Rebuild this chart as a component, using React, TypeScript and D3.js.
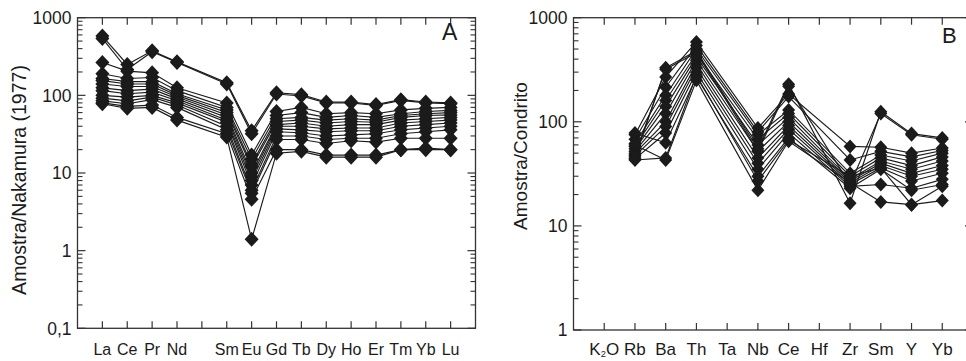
import React from 'react';
import * as d3 from 'd3';

// Panel A: rare earth elements normalised to Nakamura (1977); '' is the unplotted Pm slot
const reeElements = ['La', 'Ce', 'Pr', 'Nd', '', 'Sm', 'Eu', 'Gd', 'Tb', 'Dy', 'Ho', 'Er', 'Tm', 'Yb', 'Lu'];
const reeTickLabels = ['1000', '100', '10', '1', '0,1'];
const reeSamples: (number | null)[][] = [
  [580, 250, 375, 270, null, 145, 35, 108, 102, 82, 82, 76, 88, 82, 80],
  [540, 215, 365, 265, null, 140, 32, 104, 98, 80, 80, 74, 86, 80, 78],
  [265, 205, 195, 125, null, 80, 17, 62, 70, 58, 60, 58, 65, 68, 70],
  [190, 165, 170, 115, null, 70, 15, 55, 60, 52, 55, 52, 58, 62, 64],
  [165, 150, 150, 105, null, 65, 13, 50, 52, 48, 50, 48, 55, 58, 60],
  [155, 140, 140, 100, null, 60, 12, 46, 48, 44, 46, 45, 52, 55, 56],
  [140, 130, 130, 95, null, 56, 10, 42, 44, 40, 42, 42, 48, 50, 52],
  [125, 115, 120, 90, null, 52, 9, 40, 40, 37, 38, 38, 44, 46, 48],
  [115, 105, 110, 85, null, 48, 8, 37, 36, 34, 35, 35, 40, 42, 44],
  [100, 95, 100, 80, null, 45, 7, 34, 33, 30, 31, 32, 36, 38, 40],
  [92, 85, 95, 75, null, 40, 6, 30, 30, 27, 28, 28, 32, 34, 36],
  [85, 78, 88, 70, null, 36, 5.5, 27, 27, 24, 26, 25, 28, 28, 28],
  [80, 72, 75, 52, null, 32, 4.6, 20, 20, 17, 17, 17, 20, 20, 20],
  [78, 68, 70, 48, null, 29, 1.4, 18, 19, 16, 16, 16, 20, 21, 20],
];

// Panel B: trace elements normalised to chondrite
const spiderElements = ['K2O', 'Rb', 'Ba', 'Th', 'Ta', 'Nb', 'Ce', 'Hf', 'Zr', 'Sm', 'Y', 'Yb'];
const spiderTickLabels = ['1000', '100', '10', '1'];
const spiderSamples: (number | null)[][] = [
  [null, 45, 330, 480, null, 55, 230, null, 16.5, 125, 77, 70],
  [null, 48, 320, 460, null, 52, 220, null, 25, 120, 75, 68],
  [null, 75, 270, 585, null, 87, 185, null, 58, 57, 50, 56],
  [null, 68, 215, 540, null, 80, 175, null, 43, 52, 46, 53],
  [null, 62, 180, 500, null, 75, 130, null, 32, 48, 42, 50],
  [null, 58, 160, 450, null, 68, 120, null, 30, 45, 38, 46],
  [null, 55, 140, 420, null, 60, 110, null, 28, 42, 35, 42],
  [null, 52, 120, 390, null, 52, 100, null, 27, 40, 32, 38],
  [null, 50, 100, 360, null, 45, 92, null, 26, 38, 30, 35],
  [null, 47, 90, 330, null, 40, 85, null, 25, 36, 27, 32],
  [null, 44, 78, 300, null, 35, 78, null, 24, 25, 23, 28],
  [null, 78, 63, 270, null, 30, 70, null, 23, 35, 22, 25],
  [null, 60, 43, 250, null, 22, 65, null, 26, 17, 16, 17.5],
  [null, 43, 45, 280, null, 27, 67, null, 30, 36, 16, 24],
];

const INK = '#1b1b1b';
const FONT = '"Liberation Sans", Arial, sans-serif';

type PanelProps = {
  left: number; right: number; top: number; bottom: number;
  categories: string[];
  samples: (number | null)[][];
  yDomain: [number, number];
  tickLabels: string[];
  title: string; titleX: number; titleY: number; titleSize: number;
  letter: string; letterX: number; letterY: number; letterSize: number;
  labelSize: number; xLabelSize: number; xLabelOffset: number;
  markerW: number; markerH: number;
};

function CategoryLabel({ text, size }: { text: string; size: number }) {
  if (text === 'K2O') {
    return (
      <>
        K<tspan fontSize={size * 0.55} dy={2}>2</tspan><tspan dy={-2}>O</tspan>
      </>
    );
  }
  return <>{text}</>;
}

function Panel(p: PanelProps) {
  const x = d3.scaleLinear().domain([0, p.categories.length + 1]).range([p.left, p.right]);
  const y = d3.scaleLog().domain(p.yDomain).range([p.bottom, p.top]);

  const [lo, hi] = p.yDomain;
  const majors: number[] = [];
  const minors: number[] = [];
  for (let e = Math.round(Math.log10(lo)); e <= Math.round(Math.log10(hi)); e++) {
    const base = Math.pow(10, e);
    majors.push(base);
    if (base < hi) for (let m = 2; m <= 9; m++) minors.push(base * m);
  }
  majors.sort((a, b) => b - a);

  const diamond = `M0,${-p.markerH}L${p.markerW},0L0,${p.markerH}L${-p.markerW},0Z`;
  const line = d3.line<[number, number]>().x(d => d[0]).y(d => d[1]);

  return (
    <g>
      {/* frame */}
      <rect x={p.left} y={p.top} width={p.right - p.left} height={p.bottom - p.top}
        fill="none" stroke="#333" strokeWidth={1.3} />
      {/* log ticks on both vertical axes, pointing inward */}
      {majors.map(v => (
        <g key={'M' + v}>
          <line x1={p.left} x2={p.left + 8} y1={y(v)} y2={y(v)} stroke="#333" strokeWidth={1.2} />
          <line x1={p.right} x2={p.right - 8} y1={y(v)} y2={y(v)} stroke="#333" strokeWidth={1.2} />
        </g>
      ))}
      {minors.map(v => (
        <g key={'m' + v}>
          <line x1={p.left} x2={p.left + 5} y1={y(v)} y2={y(v)} stroke="#333" strokeWidth={1.1} />
          <line x1={p.right} x2={p.right - 5} y1={y(v)} y2={y(v)} stroke="#333" strokeWidth={1.1} />
        </g>
      ))}
      {/* category ticks on top and bottom */}
      {p.categories.map((c, i) => (
        <g key={'c' + i}>
          <line x1={x(i + 1)} x2={x(i + 1)} y1={p.top} y2={p.top + 7} stroke="#333" strokeWidth={1.2} />
          <line x1={x(i + 1)} x2={x(i + 1)} y1={p.bottom} y2={p.bottom - 7} stroke="#333" strokeWidth={1.2} />
          <text x={x(i + 1)} y={p.bottom + p.xLabelOffset} textAnchor="middle" fontSize={p.xLabelSize}
            fontFamily={FONT} fill={INK}>
            <CategoryLabel text={c} size={p.xLabelSize} />
          </text>
        </g>
      ))}
      {/* y tick labels */}
      {majors.map((v, i) => (
        <text key={'l' + v} x={p.left - 6} y={y(v) + p.labelSize * 0.36} textAnchor="end"
          fontSize={p.labelSize} fontFamily={FONT} fill={INK}>{p.tickLabels[i]}</text>
      ))}
      {/* axis title */}
      <text transform={`translate(${p.titleX},${p.titleY}) rotate(-90)`} textAnchor="middle"
        fontSize={p.titleSize} fontFamily={FONT} fill={INK}>{p.title}</text>
      <text x={p.letterX} y={p.letterY} fontSize={p.letterSize} fontFamily={FONT} fill={INK}>{p.letter}</text>
      {/* sample patterns */}
      {p.samples.map((s, k) => {
        const pts: [number, number][] = [];
        s.forEach((v, i) => { if (v != null) pts.push([x(i + 1), y(v)]); });
        return (
          <g key={'s' + k}>
            <path d={line(pts) || ''} fill="none" stroke={INK} strokeWidth={1.15} />
            {pts.map((pt, j) => (
              <path key={j} d={diamond} transform={`translate(${pt[0]},${pt[1]})`} fill={INK} />
            ))}
          </g>
        );
      })}
    </g>
  );
}

export default function App() {
  return (
    <svg width={966} height={361} style={{ position: 'absolute', left: 0, top: 0, background: '#fff' }}>
      <rect width={966} height={361} fill="#fff" />
      <Panel left={77.5} right={475.5} top={17.7} bottom={328.3}
        categories={reeElements} samples={reeSamples} yDomain={[0.1, 1000]}
        tickLabels={reeTickLabels}
        title="Amostra/Nakamura (1977)" titleX={26} titleY={180} titleSize={19.5}
        letter="A" letterX={442} letterY={40} letterSize={23}
        labelSize={17.5} xLabelSize={16} xLabelOffset={27} markerW={7} markerH={7.5} />
      <Panel left={573.5} right={973} top={17.7} bottom={330}
        categories={spiderElements} samples={spiderSamples} yDomain={[1, 1000]}
        tickLabels={spiderTickLabels}
        title="Amostra/Condrito" titleX={527} titleY={156} titleSize={19}
        letter="B" letterX={942} letterY={43} letterSize={22}
        labelSize={17.5} xLabelSize={17} xLabelOffset={25} markerW={6.5} markerH={7} />
    </svg>
  );
}
